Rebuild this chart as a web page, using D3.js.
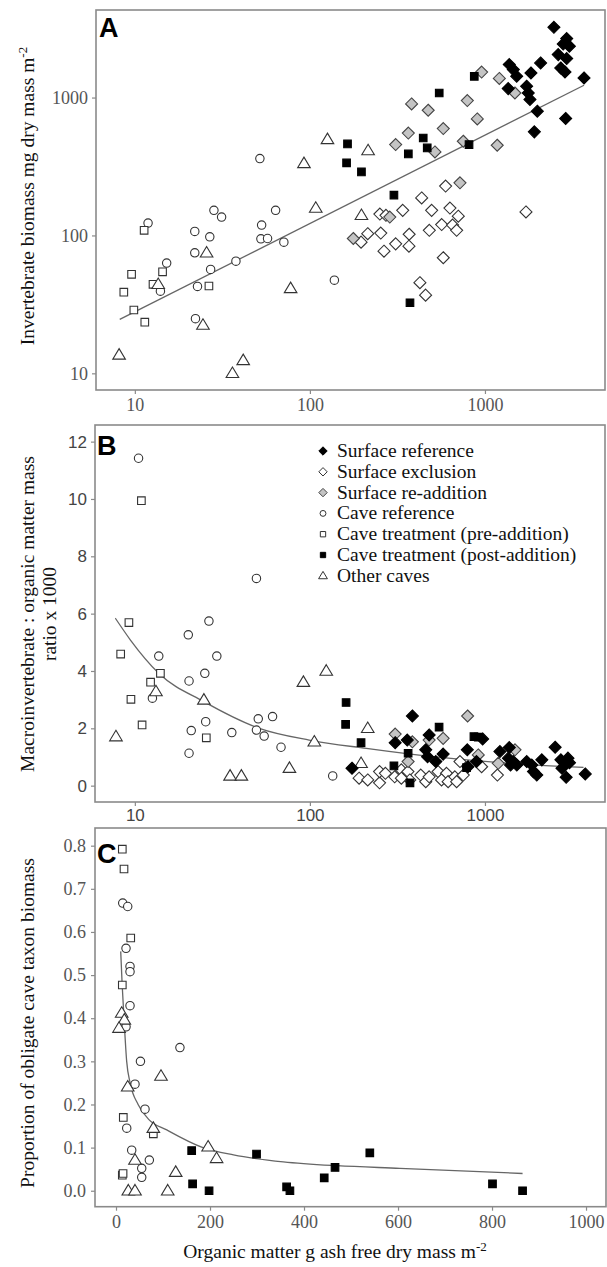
<!DOCTYPE html>
<html><head><meta charset="utf-8">
<script src="https://cdn.jsdelivr.net/npm/d3@7"></script>
<style>body{margin:0;background:#fff}svg{display:block}</style>
</head><body>
<svg id="c" width="607" height="1267"></svg>
<script>
// ---------- Panel A data: [organic matter g AFDM m-2, invertebrate biomass mg m-2]
const A_surfaceReference = [[2477,3230],[2931,2676],[3035,2355],[2800,2445],[2622,2049],[2931,1918],[2710,1638],[2865,1533],[3680,1388],[2079,1782],[1831,1507],[1377,1734],[1452,1595],[1518,1426],[1358,1161],[1730,1208],[1767,1079],[1807,968],[1991,796],[2891,705],[1915,564]];
const A_surfaceExclusion = [[251,143],[272,140],[339,152],[435,187],[596,228],[496,152],[631,158],[704,138],[1715,148],[196,89.4],[214,103],[254,104],[265,76.9],[309,86.9],[369,102],[368,83.6],[481,109],[566,120],[653,119],[689,109],[578,68.9],[425,45.4],[458,36.9]];
const A_surfaceReaddition = [[957,1531],[1208,1375],[1483,1079],[381,899],[474,809],[793,951],[904,700],[578,596],[365,553],[309,456],[518,403],[752,482],[1175,451],[720,241],[177,95],[286,136]];
const A_caveReference = [[11.9,123],[15.2,63],[14.0,39.4],[22.0,107],[22.0,74.8],[28.3,152],[31.3,136],[26.8,97.7],[27.1,56.7],[22.8,42.7],[22.2,24.9],[37.8,65.1],[53.0,119],[63.7,152],[52.5,94.5],[57.3,95],[71.0,89.4],[51.8,361],[138,47.4]];
const A_cavePre = [[11.3,109],[9.58,52.2],[8.65,38.8],[9.87,28.8],[11.4,23.5],[12.7,44.2],[14.4,54.5],[26.5,43.0]];
const A_cavePost = [[164,461],[162,336],[197,289],[302,196],[365,390],[444,509],[468,431],[548,1079],[811,456],[869,1426],[373,32.5]];
const A_otherCaves = [[8.13,13.6],[13.6,44.2],[25.7,74.8],[24.5,22.4],[36.1,10.0],[41.6,12.4],[77.6,41.3],[92.5,333],[108,158],[126,497],[197,140],[215,413]];
const A_fit = [[8.2,24.6],[3680,1228]];

// ---------- Panel B data: [organic matter, ratio x 1000]
const B_surfaceReference = [[174,0.61],[307,1.50],[360,1.59],[385,2.43],[480,1.77],[459,1.25],[470,1.01],[524,0.84],[577,1.10],[793,1.25],[800,0.66],[895,0.84],[970,1.63],[1218,1.19],[1377,1.33],[1362,0.96],[1452,0.84],[1520,0.72],[1400,0.72],[1733,0.84],[1852,0.72],[1893,0.49],[1977,0.37],[2113,0.90],[2517,1.34],[2716,0.90],[2873,0.76],[3040,0.80],[2754,0.61],[2980,0.96],[2910,0.29],[3741,0.41]];
const B_surfaceExclusion = [[191,0.26],[214,0.20],[250,0.10],[250,0.49],[270,0.43],[305,0.31],[333,0.55],[363,0.49],[372,0.20],[333,0.26],[430,0.37],[459,0.14],[480,0.31],[540,0.49],[603,0.43],[565,0.20],[616,0.14],[673,0.31],[689,0.14],[752,0.37],[720,0.84],[957,0.66],[1178,0.37]];
const B_surfaceReaddition = [[307,1.80],[385,1.53],[364,0.84],[480,1.59],[577,1.65],[796,2.43],[916,1.07],[1191,0.78],[1485,1.25]];
const B_caveReference = [[10.5,11.42],[49.5,7.23],[26.5,5.74],[20.2,5.26],[13.7,4.52],[29.4,4.52],[12.6,3.05],[20.4,3.65],[25.1,3.92],[25.4,2.23],[21.0,1.92],[20.4,1.13],[35.8,1.85],[50.7,2.33],[61.2,2.41],[49.5,1.94],[54.8,1.73],[68.4,1.34],[135,0.34]];
const B_cavePre = [[10.9,9.94],[9.25,5.69],[8.3,4.59],[12.3,3.61],[14.0,3.92],[9.5,3.01],[11.0,2.12],[25.6,1.67]];
const B_cavePost = [[161,2.90],[160,2.14],[196,1.5],[302,0.69],[364,1.13],[373,0.10],[547,2.04],[785,0.63],[865,1.71],[916,1.69]];
const B_otherCaves = [[13.2,3.28],[7.8,1.71],[24.8,2.99],[35.0,0.34],[40.6,0.34],[76.4,0.61],[91.8,3.61],[124,4.0],[106,1.53],[214,2.0],[196,0.78]];
const B_fit = [[7.74,5.84],[9.44,5.08],[13.7,3.92],[24.8,2.93],[51.4,2.0],[99,1.59],[210,1.30],[506,1.01],[1218,0.80],[3656,0.64]];

// ---------- Panel C data: [organic matter, proportion obligate cave taxon biomass]
const C_caveReference = [[14.3,0.667],[24.9,0.659],[21.3,0.562],[29.8,0.52],[29.8,0.508],[29.8,0.429],[21.3,0.38],[136,0.332],[52,0.300],[40.4,0.247],[61.7,0.189],[22.8,0.145],[33.4,0.094],[70.9,0.071],[54.7,0.052],[54.7,0.031]];
const C_cavePre = [[13.4,0.792],[17,0.746],[31.3,0.586],[13.4,0.477],[15.5,0.170],[79.4,0.132],[13.4,0.036],[15,0.040]];
const C_otherCaves = [[12.1,0.412],[17.7,0.396],[6.4,0.377],[95.7,0.266],[24.9,0.241],[79.4,0.145],[40.4,0.071],[26.2,0.0],[40.4,0.0],[110,0.0],[127,0.043],[196,0.102],[214,0.075]];
const C_cavePost = [[161,0.093],[163,0.016],[198,0.0],[299,0.085],[363,0.009],[370,0.0],[443,0.030],[466,0.054],[540,0.088],[801,0.016],[865,0.0]];
const C_fit = [[10,0.555],[13,0.48],[17,0.40],[22.7,0.30],[30,0.25],[47,0.20],[70,0.165],[108,0.141],[185,0.10],[250,0.083],[356,0.067],[470,0.058],[604,0.052],[865,0.040]];

// ---------- tick labels / legend
const logTicks = [10,100,1000];
const bYTicks = [0,2,4,6,8,10,12];
const cYTicks = [0,0.1,0.2,0.3,0.4,0.5,0.6,0.7,0.8];
const cXTicks = [0,200,400,600,800,1000];
const legendLabels = ["Surface reference","Surface exclusion","Surface re-addition","Cave reference","Cave treatment (pre-addition)","Cave treatment (post-addition)","Other caves"];
const legendKeys = ["surfRef","surfExcl","surfRe","caveRef","cavePre","cavePost","other"];

const svg = d3.select("#c");
const SERIF = "'Liberation Serif','Times New Roman',serif";
const SANS = "'Liberation Sans',Arial,sans-serif";
const FRAME = "#8a8a8a";

// symbol styles
const styles = {
  surfRef:{shape:"diamond", fill:"#000", stroke:"#000"},
  surfExcl:{shape:"diamond", fill:"#fff", stroke:"#333"},
  surfRe:{shape:"diamond", fill:"#c4c4c4", stroke:"#444"},
  caveRef:{shape:"circle", fill:"#fff", stroke:"#333"},
  cavePre:{shape:"square", fill:"#fff", stroke:"#333"},
  cavePost:{shape:"square", fill:"#000", stroke:"#000"},
  other:{shape:"triangle", fill:"#fff", stroke:"#333"}
};
function symPath(shape, s){
  if(shape==="diamond"){ const r=6*s; return `M0,${-r}L${r},0L0,${r}L${-r},0Z`; }
  if(shape==="square"){ const r=3.8*s; return `M${-r},${-r}H${r}V${r}H${-r}Z`; }
  if(shape==="circle"){ const r=4.2*s; return `M${r},0A${r},${r} 0 1,1 ${-r},0A${r},${r} 0 1,1 ${r},0Z`; }
  if(shape==="triangle"){ const w=6.3*s, h=10.5*s; return `M0,${-h*0.6}L${w},${h*0.4}L${-w},${h*0.4}Z`; }
}
function drawPoints(g, data, key, x, y, s=1){
  const st = styles[key];
  g.append("g").selectAll("path").data(data).join("path")
    .attr("d", symPath(st.shape, s))
    .attr("transform", d=>`translate(${x(d[0])},${y(d[1])})`)
    .attr("fill", st.fill).attr("stroke", st.stroke).attr("stroke-width", 1.1);
}
function frame(x0,y0,x1,y1){
  svg.append("rect").attr("x",x0).attr("y",y0).attr("width",x1-x0).attr("height",y1-y0)
    .attr("fill","none").attr("stroke",FRAME).attr("stroke-width",1.6);
}
function styleAxis(g, font, size, color){
  g.select(".domain").remove();
  g.selectAll(".tick line").attr("stroke",FRAME).attr("stroke-width",1.2);
  g.selectAll(".tick text").attr("font-family",font).attr("font-size",size).attr("fill",color);
}
function panelLetter(t,x,y){
  svg.append("text").attr("x",x).attr("y",y).text(t)
    .attr("font-family",SANS).attr("font-weight","bold").attr("font-size",27).attr("fill","#000");
}
const TITLE = 19.5;

// =========== Panel A ===========
const xA = d3.scaleLog().domain([6,4850]).range([96,605]);
const yA = d3.scaleLog().domain([7.57,4315]).range([390,10]);
frame(96,10,605,390);
{
  const gx = svg.append("g").attr("transform","translate(0,390)")
    .call(d3.axisBottom(xA).tickValues(logTicks).tickFormat(d3.format("d")).tickSize(4).tickPadding(4));
  styleAxis(gx, SERIF, 18, "#555");
  const gy = svg.append("g").attr("transform","translate(96,0)")
    .call(d3.axisLeft(yA).tickValues(logTicks).tickFormat(d3.format("d")).tickSize(4).tickPadding(4));
  styleAxis(gy, SERIF, 18, "#555");
  const g = svg.append("g");
  g.append("path").datum(A_fit).attr("d", d3.line().x(d=>xA(d[0])).y(d=>yA(d[1])))
    .attr("fill","none").attr("stroke","#666").attr("stroke-width",1.3);
  drawPoints(g, A_caveReference, "caveRef", xA, yA);
  drawPoints(g, A_cavePre, "cavePre", xA, yA);
  drawPoints(g, A_otherCaves, "other", xA, yA);
  drawPoints(g, A_surfaceExclusion, "surfExcl", xA, yA);
  drawPoints(g, A_surfaceReaddition, "surfRe", xA, yA);
  drawPoints(g, A_cavePost, "cavePost", xA, yA);
  drawPoints(g, A_surfaceReference, "surfRef", xA, yA);
  panelLetter("A", 99, 37);
  const t = svg.append("text").attr("transform","translate(34,196) rotate(-90)")
    .attr("text-anchor","middle").attr("font-family",SERIF).attr("font-size",TITLE).attr("fill","#111");
  t.append("tspan").text("Invertebrate biomass mg dry mass m");
  t.append("tspan").attr("dy",-7).attr("font-size",13).text("-2");
}

// =========== Panel B ===========
const xB = d3.scaleLog().domain([6,4850]).range([96,605]);
const yB = d3.scaleLinear().domain([-0.57,12.58]).range([802,425]);
frame(95,425,605,802);
{
  const gx = svg.append("g").attr("transform","translate(0,802)")
    .call(d3.axisBottom(xB).tickValues(logTicks).tickFormat(d3.format("d")).tickSize(4).tickPadding(3));
  styleAxis(gx, SANS, 17, "#444");
  const gy = svg.append("g").attr("transform","translate(95,0)")
    .call(d3.axisLeft(yB).tickValues(bYTicks).tickFormat(d3.format("d")).tickSize(4).tickPadding(4));
  styleAxis(gy, SANS, 17, "#444");
  const g = svg.append("g");
  g.append("path").datum(B_fit).attr("d", d3.line().x(d=>xB(d[0])).y(d=>yB(d[1])).curve(d3.curveMonotoneX))
    .attr("fill","none").attr("stroke","#666").attr("stroke-width",1.3);
  drawPoints(g, B_caveReference, "caveRef", xB, yB);
  drawPoints(g, B_cavePre, "cavePre", xB, yB);
  drawPoints(g, B_otherCaves, "other", xB, yB);
  drawPoints(g, B_surfaceExclusion, "surfExcl", xB, yB);
  drawPoints(g, B_surfaceReaddition, "surfRe", xB, yB);
  drawPoints(g, B_cavePost, "cavePost", xB, yB);
  drawPoints(g, B_surfaceReference, "surfRef", xB, yB);
  panelLetter("B", 97, 455);
  // legend
  const lg = svg.append("g");
  legendLabels.forEach((lab,i)=>{
    const yy = 451 + i*20.8;
    const st = styles[legendKeys[i]];
    lg.append("path").attr("d", symPath(st.shape, 0.7)).attr("transform",`translate(323,${yy})`)
      .attr("fill",st.fill).attr("stroke",st.stroke).attr("stroke-width",1);
    lg.append("text").attr("x",337).attr("y",yy+6).text(lab)
      .attr("font-family",SERIF).attr("font-size",19.5).attr("fill","#111");
  });
  const t = svg.append("text").attr("transform","translate(0,614) rotate(-90)")
    .attr("text-anchor","middle").attr("font-family",SERIF).attr("font-size",TITLE).attr("fill","#111");
  t.append("tspan").attr("x",0).attr("y",34).text("Macroinvertebrate : organic matter mass");
  t.append("tspan").attr("x",0).attr("y",56).text("ratio x 1000");
}

// =========== Panel C ===========
const xC = d3.scaleLinear().domain([-44.7,1042.5]).range([95,606]);
const yC = d3.scaleLinear().domain([-0.037,0.841]).range([1206.7,828]);
frame(95,828,606,1206.7);
{
  const gx = svg.append("g").attr("transform","translate(0,1206.7)")
    .call(d3.axisBottom(xC).tickValues(cXTicks).tickFormat(d3.format("d")).tickSize(4).tickPadding(5));
  styleAxis(gx, SERIF, 18, "#555");
  const gy = svg.append("g").attr("transform","translate(95,0)")
    .call(d3.axisLeft(yC).tickValues(cYTicks).tickFormat(d3.format(".1f")).tickSize(4).tickPadding(5));
  styleAxis(gy, SERIF, 18, "#555");
  const g = svg.append("g");
  g.append("path").datum(C_fit).attr("d", d3.line().x(d=>xC(d[0])).y(d=>yC(d[1])).curve(d3.curveMonotoneX))
    .attr("fill","none").attr("stroke","#666").attr("stroke-width",1.3);
  drawPoints(g, C_caveReference, "caveRef", xC, yC);
  drawPoints(g, C_cavePre, "cavePre", xC, yC);
  drawPoints(g, C_otherCaves, "other", xC, yC);
  drawPoints(g, C_cavePost, "cavePost", xC, yC);
  panelLetter("C", 97, 863);
  svg.append("text").attr("transform","translate(34,1023) rotate(-90)")
    .attr("text-anchor","middle").attr("font-family",SERIF).attr("font-size",TITLE).attr("fill","#111")
    .text("Proportion of obligate cave taxon biomass");
  const tx = svg.append("text").attr("x",335).attr("y",1258)
    .attr("text-anchor","middle").attr("font-family",SERIF).attr("font-size",TITLE).attr("fill","#111");
  tx.append("tspan").text("Organic matter g ash free dry mass m");
  tx.append("tspan").attr("dy",-7).attr("font-size",13).text("-2");
}
</script>
</body></html>
